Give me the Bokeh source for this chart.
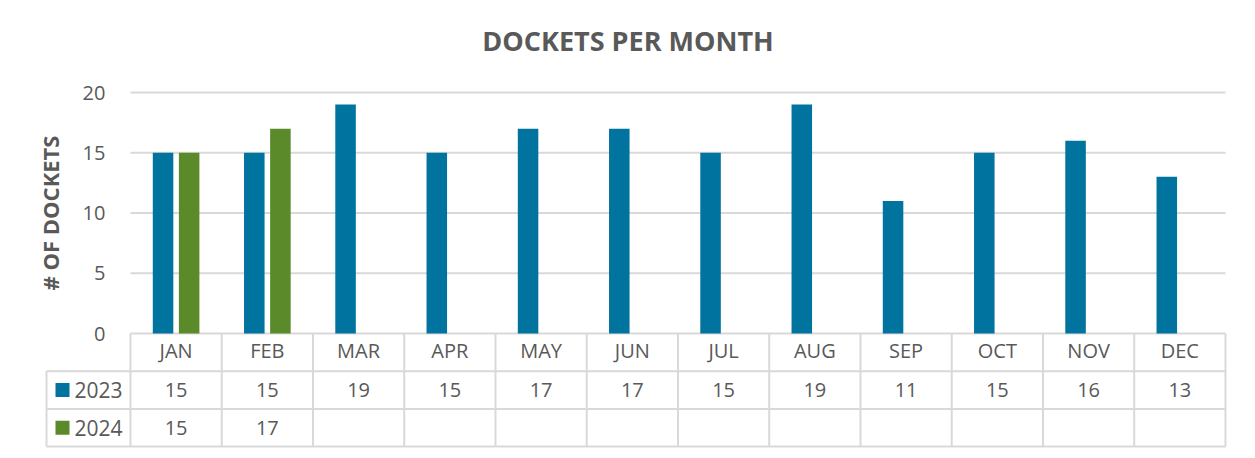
from bokeh.plotting import figure
from bokeh.models import FixedTicker, Range1d, ColumnDataSource
from bokeh.core.properties import value
from bokeh.embed import file_html
from bokeh.resources import INLINE

# ---------------- data ----------------
months = ["JAN", "FEB", "MAR", "APR", "MAY", "JUN",
          "JUL", "AUG", "SEP", "OCT", "NOV", "DEC"]
series_names = ["2023", "2024"]
values_2023 = [15, 15, 19, 15, 17, 17, 15, 19, 11, 15, 16, 13]
values_2024 = [15, 17]
y_ticks = [0, 5, 10, 15, 20]

# ---------------- style ----------------
BLUE = "#00739F"
GREEN = "#5B8A2A"
TEXT = "#595959"
LINE = "#D9D9D9"
FONT = "Open Sans"

W, H = 1255, 458
ML, MR, MT, MB = 0, 0, 72, 0
CAT_PX = 91.25      # pixels per month category
UNIT_PX = 12.05     # pixels per docket
ROW_PX = 37.7       # table row height in pixels

frame_w = W - ML - MR
frame_h = H - MT - MB
# position of the first category centre / zero line inside the frame (px)
x0_px = 175.6 - ML
zero_px = 333.0 - MT
x_start = -x0_px / CAT_PX
x_end = x_start + frame_w / CAT_PX
y_end = zero_px / UNIT_PX
y_start = y_end - frame_h / UNIT_PX

def rows(n):
    return -n * ROW_PX / UNIT_PX

p = figure(width=W, height=H, output_backend="svg", toolbar_location=None,
           x_range=Range1d(x_start, x_end), y_range=Range1d(y_start, y_end),
           min_border_left=ML, min_border_right=MR, min_border_top=MT,
           min_border_bottom=MB, background_fill_color="white",
           border_fill_color="white", outline_line_color=None)

p.title.text = "DOCKETS PER MONTH"
p.title.align = "center"
p.title.text_font = FONT
p.title.text_font_style = "bold"
p.title.text_font_size = "27px"
p.title.text_color = TEXT
p.title.standoff = 28

p.grid.visible = False

# y axis pinned at the left edge of the category area
ya = p.yaxis[0]
ya.fixed_location = -0.5
ya.bounds = (0, 20)
ya.ticker = FixedTicker(ticks=y_ticks)
ya.axis_line_color = None
ya.major_tick_line_color = None
ya.minor_tick_line_color = None
ya.major_label_standoff = 19
ya.major_label_text_font = FONT
ya.major_label_text_font_size = "20px"
ya.major_label_text_color = TEXT
ya.axis_label = "# OF DOCKETS"
ya.axis_label_text_font = FONT
ya.axis_label_text_font_style = "bold"
ya.axis_label_text_font_size = "22px"
ya.axis_label_text_color = TEXT
ya.axis_label_standoff = 15

# x axis: month header row of the data table
xa = p.xaxis[0]
xa.fixed_location = 0
xa.ticker = FixedTicker(ticks=list(range(len(months))))
xa.major_label_overrides = {i: m for i, m in enumerate(months)}
xa.axis_line_color = None
xa.major_tick_line_color = None
xa.minor_tick_line_color = None
xa.major_label_standoff = -3
xa.major_label_text_font = FONT
xa.major_label_text_font_size = "20px"
xa.major_label_text_color = TEXT

n = len(months)
# gridlines
p.segment(x0=[-0.5] * len(y_ticks), x1=[n - 0.5] * len(y_ticks),
          y0=y_ticks, y1=y_ticks, line_color=LINE, line_width=2)

# bars
BAR_W = 0.225
OFF = 0.143
src23 = ColumnDataSource(dict(x=[i - OFF for i in range(n)], top=values_2023))
src24 = ColumnDataSource(dict(x=[i + OFF for i in range(len(values_2024))], top=values_2024))
p.vbar(x="x", top="top", bottom=0, width=BAR_W, source=src23,
       fill_color=BLUE, line_color=None)
p.vbar(x="x", top="top", bottom=0, width=BAR_W, source=src24,
       fill_color=GREEN, line_color=None)

# data table grid
leg_left = (46.0 - 175.6) / CAT_PX  # left edge of legend column
hy = [rows(1), rows(2), rows(3)]
p.segment(x0=[leg_left] * 3, x1=[n - 0.5] * 3, y0=hy, y1=hy,
          line_color=LINE, line_width=2)
vx = [k - 0.5 for k in range(n + 1)]
p.segment(x0=vx, x1=vx, y0=[0] * len(vx), y1=[rows(3)] * len(vx),
          line_color=LINE, line_width=2)
p.segment(x0=[leg_left], x1=[leg_left], y0=[rows(1)], y1=[rows(3)],
          line_color=LINE, line_width=2)

# table values
r1 = rows(1.5)
r2 = rows(2.5)
p.text(x=list(range(n)), y=[r1] * n, text=[str(v) for v in values_2023],
       text_align="center", text_baseline="middle", text_font=value(FONT),
       text_font_size="20px", text_color=TEXT)
p.text(x=list(range(len(values_2024))), y=[r2] * len(values_2024),
       text=[str(v) for v in values_2024],
       text_align="center", text_baseline="middle", text_font=value(FONT),
       text_font_size="20px", text_color=TEXT)

# legend keys in the table
key_x = (62.0 - 175.6) / CAT_PX
lab_x = (74.0 - 175.6) / CAT_PX
p.rect(x=[key_x, key_x], y=[r1, r2], width=14, height=14,
       width_units="screen", height_units="screen",
       fill_color=[BLUE, GREEN], line_color=None)
p.text(x=[lab_x, lab_x], y=[r1, r2], text=series_names,
       text_align="left", text_baseline="middle", text_font=value(FONT),
       text_font_size="21px", text_color=TEXT)

open("out.html", "w").write(file_html(p, INLINE))
